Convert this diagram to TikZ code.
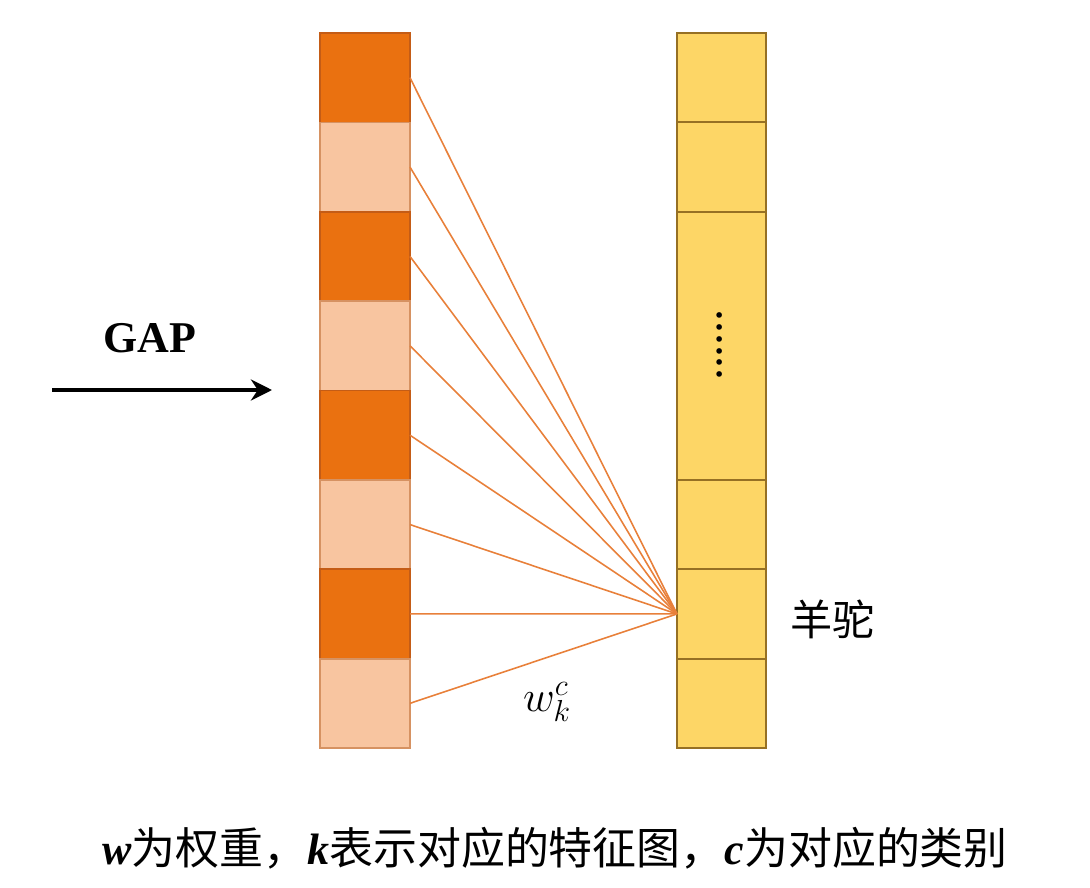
\documentclass[tikz,border=0pt]{standalone}
\usepackage{fontspec}
\setmainfont{Liberation Serif}
\newfontfamily\cjk{Noto Sans CJK SC}
\usepackage{tikz}
\usetikzlibrary{arrows.meta,positioning,calc}
\definecolor{darkorange}{RGB}{234,113,16}
\definecolor{darkorangeline}{RGB}{196,92,22}
\definecolor{lightorange}{RGB}{248,197,160}
\definecolor{lightorangeline}{RGB}{214,146,98}
\definecolor{softyellow}{RGB}{253,214,102}
\definecolor{softyellowline}{RGB}{150,112,36}
\definecolor{linkorange}{RGB}{232,128,58}

\begin{document}
\begin{tikzpicture}[node distance=0pt,
    every node/.style={inner sep=0pt, outer sep=0pt},
    darkcell/.style={draw=darkorangeline, fill=darkorange, line width=1pt, minimum width=1.8cm, minimum height=1.7875cm},
    lightcell/.style={draw=lightorangeline, fill=lightorange, line width=1pt, minimum width=1.8cm, minimum height=1.7875cm},
    classcell/.style={draw=softyellowline, fill=softyellow, line width=1.2pt, minimum width=1.78cm, minimum height=1.7875cm}]
        \useasboundingbox (0,0) rectangle (21.8,17.74);
        % feature vector after GAP
        \node[darkcell] at (7.3,16.186) (f1) {};
        \node[lightcell, below=of f1] (f2) {};
        \node[darkcell, below=of f2] (f3) {};
        \node[lightcell, below=of f3] (f4) {};
        \node[darkcell, below=of f4] (f5) {};
        \node[lightcell, below=of f5] (f6) {};
        \node[darkcell, below=of f6] (f7) {};
        \node[lightcell, below=of f7] (f8) {};
        % class scores
        \node[classcell] at (14.43,16.186) (c1) {};
        \node[classcell, below=of c1] (c2) {};
        \node[classcell, below=of c2, minimum height=5.3625cm] (c3) {};
        \node[classcell, below=of c3] (c4) {};
        \node[classcell, below=of c4] (c5) {};
        \node[classcell, below=of c5] (c6) {};
        \node[rotate=-90] at (14.4,10.84) (dots) {\fontsize{27}{27}\selectfont ......};
        \node[right=0.48cm of c5, yshift=-0.1cm] (alpaca) {\cjk\fontsize{24}{26}\selectfont 羊驼};
        % weights
        \foreach \i in {1,...,8}
          \draw[linkorange, line width=0.9pt] (f\i.east) -- (c5.west);
        \node at (10.94,3.7) (weight) {\fontsize{24}{26}\selectfont$w_k^c$};
        % GAP arrow
        \node[font=\bfseries\fontsize{25}{28}\selectfont] at (3.0,10.98) (gap) {GAP};
        \coordinate (gapstart) at (1.04,9.94);
        \coordinate (gapend) at (5.44,9.94);
        \draw[-{Stealth[length=12pt,width=12pt]}, line width=2.4pt] (gapstart) -- (gapend);
        \node at (11.1,0.78) (caption) {\fontsize{25}{28}\selectfont\textbf{\textit{w}}{\cjk 为权重，}\textbf{\textit{k}}{\cjk 表示对应的特征图，}\textbf{\textit{c}}{\cjk 为对应的类别}};
      \end{tikzpicture}
\end{document}
